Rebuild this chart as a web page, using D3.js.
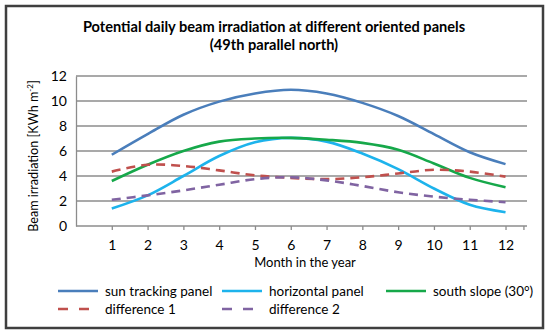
<!DOCTYPE html>
<html>
<head>
<meta charset="utf-8">
<script src="https://cdn.jsdelivr.net/npm/d3@7"></script>
<style>
  body{margin:0;background:#fff;}
  svg{display:block;font-family:Lato,"Open Sans",sans-serif;}
</style>
</head>
<body>
<svg></svg>
<script>
var months = [1,2,3,4,5,6,7,8,9,10,11,12];
var sunTracking = [5.7,7.35,8.9,9.95,10.6,10.9,10.6,9.85,8.8,7.35,5.9,4.95];
var horizontal = [1.4,2.45,4.0,5.6,6.7,7.05,6.75,5.8,4.55,3.0,1.7,1.1];
var southSlope = [3.6,4.9,6.0,6.75,7.0,7.05,6.9,6.65,6.1,5.0,3.85,3.1];
var diff1 = [4.35,4.9,4.8,4.45,4.05,3.85,3.75,3.9,4.2,4.5,4.35,3.95];
var diff2 = [2.1,2.45,2.85,3.3,3.75,3.9,3.65,3.2,2.7,2.35,2.1,1.9];
var yTicks = [0,2,4,6,8,10,12];
var seriesNames = ["sun tracking panel","horizontal panel","south slope (30°)","difference 1","difference 2"];

start();

function start(){
  var width = 550;
  var height = 336;

  var svg = d3.select("svg")
              .attr("width",width)
              .attr("height",height);

  svg.append("rect")
     .attr("x",6).attr("y",6)
     .attr("width",537).attr("height",322)
     .attr("fill","#fff")
     .attr("stroke","#3f3f3f")
     .attr("stroke-width",2.5);

  // title
  var title = svg.append("text")
                 .attr("text-anchor","middle")
                 .attr("font-weight","bold")
                 .attr("font-size",14.6)
                 .attr("fill","#000");
  title.append("tspan").attr("x",274).attr("y",32)
       .text("Potential daily beam irradiation at different oriented panels");
  title.append("tspan").attr("x",274).attr("y",50)
       .text("(49th parallel north)");

  var x = d3.scaleLinear().domain([0,12.6]).range([76,527]);
  var y = d3.scaleLinear().domain([0,12]).range([226,76]);

  // gridlines
  svg.append("g")
     .selectAll("line")
     .data(yTicks.slice(1))
     .enter()
     .append("line")
     .attr("x1",76).attr("x2",527)
     .attr("y1",function(d){return y(d);})
     .attr("y2",function(d){return y(d);})
     .attr("stroke","#8c8c8c")
     .attr("stroke-width",1.3);

  // y axis
  var yAxis = svg.append("g")
                 .attr("transform","translate(76,0)")
                 .call(d3.axisLeft(y).tickValues(yTicks).tickSize(0).tickPadding(9));
  yAxis.select(".domain").attr("stroke","#8c8c8c").attr("stroke-width",1.3);
  yAxis.selectAll("text").attr("font-size",14).attr("fill","#000")
       .attr("font-family","Lato,sans-serif");

  // x axis
  var xAxis = svg.append("g")
                 .attr("transform","translate(0,226)")
                 .call(d3.axisBottom(x).tickValues(months.concat([12.5]))
                         .tickSize(4).tickSizeOuter(0).tickPadding(10)
                         .tickFormat(function(d){return d<=12 && d%1==0 ? d : "";}));
  xAxis.select(".domain").attr("stroke","#8c8c8c").attr("stroke-width",1.3)
       .attr("d","M76,0H527");
  xAxis.selectAll(".tick line").attr("stroke","#8c8c8c").attr("stroke-width",1.3);
  xAxis.selectAll("text").attr("font-size",14).attr("fill","#000")
       .attr("font-family","Lato,sans-serif");

  svg.append("text")
     .attr("x",305).attr("y",267)
     .attr("text-anchor","middle")
     .attr("font-size",13)
     .text("Month in the year");

  var yTitle = svg.append("text")
                  .attr("transform","translate(38,156) rotate(-90)")
                  .attr("text-anchor","middle")
                  .attr("font-size",12.6);
  yTitle.append("tspan").text("Beam irradiation [KWh m");
  yTitle.append("tspan").attr("font-size",8).attr("dy",-5).text("-2");
  yTitle.append("tspan").attr("dy",5).text("]");

  var series = [
    {name:seriesNames[0],values:sunTracking,color:"#4a7ebb",dash:null},
    {name:seriesNames[1],values:horizontal,color:"#1db3ec",dash:null},
    {name:seriesNames[2],values:southSlope,color:"#16a84a",dash:null},
    {name:seriesNames[3],values:diff1,color:"#c0504d",dash:"9,6"},
    {name:seriesNames[4],values:diff2,color:"#8064a2",dash:"9,6"}
  ];

  var line = d3.line()
               .x(function(d,i){return x(months[i]);})
               .y(function(d){return y(d);})
               .curve(d3.curveCatmullRom.alpha(0.5));

  svg.append("g")
     .selectAll("path")
     .data(series)
     .enter()
     .append("path")
     .attr("d",function(d){return line(d.values);})
     .attr("fill","none")
     .attr("stroke",function(d){return d.color;})
     .attr("stroke-width",2.6)
     .attr("stroke-dasharray",function(d){return d.dash;});

  // legend
  var legendPos = [[58,291],[222,291],[386,291],[58,309],[222,309]];
  var legend = svg.append("g")
                  .selectAll("g")
                  .data(series)
                  .enter()
                  .append("g")
                  .attr("transform",function(d,i){return "translate("+legendPos[i][0]+","+legendPos[i][1]+")";});
  legend.append("line")
        .attr("x1",0).attr("x2",function(d){return d.dash ? 31 : 40;})
        .attr("y1",0).attr("y2",0)
        .attr("stroke",function(d){return d.color;})
        .attr("stroke-width",2.6)
        .attr("stroke-dasharray",function(d){return d.dash ? "10,11" : null;});
  legend.append("text")
        .attr("x",47).attr("y",0)
        .attr("dy","0.35em")
        .attr("font-size",13.5)
        .text(function(d){return d.name;});
}
</script>
</body>
</html>
